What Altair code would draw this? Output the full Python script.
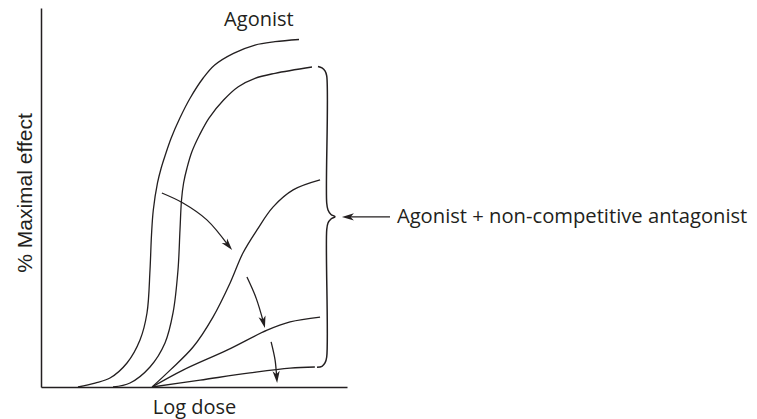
import altair as alt
import pandas as pd

# ---- values (x: log dose, 0-10 units; y: % maximal effect) ----
agonist_dose = [1.209, 1.765, 2.255, 2.810, 3.235, 3.464, 3.562, 3.611, 3.670, 3.807, 3.928, 4.062,
                4.255, 4.539, 4.876, 5.301, 5.676, 6.291, 6.993, 7.647, 8.431]
agonist_effect = [0, 1.16, 2.61, 6.97, 13.64, 21.48, 33.96, 44.12, 51.37, 59.21, 63.56, 67.33,
                  72.27, 78.07, 83.88, 89.68, 93.46, 96.85, 99.26, 100.22, 100.86]

anta1_dose = [2.353, 2.908, 3.562, 4.052, 4.314, 4.477, 4.542, 4.592, 4.660, 4.771, 4.928, 5.180,
              5.490, 5.967, 6.448, 6.993, 7.647, 8.856]
anta1_effect = [0, 1.16, 5.80, 12.77, 21.48, 33.96, 45.57, 54.28, 59.21, 63.56, 68.21, 73.14,
                78.07, 83.30, 87.16, 89.60, 91.05, 92.88]

anta2_dose = [3.63, 4.22, 4.97, 5.62, 6.18, 6.60, 7.06, 7.58, 8.24, 9.12]
anta2_effect = [0, 4.9, 11.6, 20.3, 30.2, 38.9, 45.6, 52.2, 57.2, 60.1]

anta3_dose = [3.63, 4.64, 6.08, 7.39, 8.14, 9.12]
anta3_effect = [0, 4.9, 10.7, 16.5, 18.9, 20.3]

anta4_dose = [3.63, 5.20, 6.83, 8.14, 8.95]
anta4_effect = [0, 2.0, 4.1, 5.5, 5.8]

# curved arrows showing the downward shift (shaft points, last point = arrow head)
arrow1_dose = [3.95, 4.64, 5.42, 6.12]
arrow1_effect = [56.3, 53.4, 48.5, 41.1]
arrow2_dose = [6.73, 7.03, 7.27]
arrow2_effect = [31.9, 25.8, 18.8]
arrow3_dose = [7.52, 7.65, 7.70]
arrow3_effect = [13.1, 7.8, 2.9]
label_arrow_dose = [10.03, 11.405]
label_arrow_effect = [49.35, 49.35]

# brace grouping the antagonist curves
brace_dose = [9.052, 9.183, 9.281, 9.337, 9.337, 9.379, 9.477, 9.608, 9.477, 9.379, 9.337, 9.337, 9.281, 9.183, 9.020]
brace_effect = [93.03, 92.60, 91.73, 90.28, 53.41, 51.38, 50.07, 49.43, 48.77, 47.61, 45.58, 8.71, 6.97, 6.01, 5.72]

label_text = ["Agonist", "Agonist + non-competitive antagonist"]
label_dose = [7.12, 11.63]
label_effect = [104.8, 47.6]

INK = "#231f20"


def series(name, xs, ys):
    return pd.DataFrame({"dose": xs, "effect": ys, "series": name, "i": list(range(len(xs)))})


curves = pd.concat([
    series("agonist", agonist_dose, agonist_effect),
    series("anta1", anta1_dose, anta1_effect),
    series("anta2", anta2_dose, anta2_effect),
    series("anta3", anta3_dose, anta3_effect),
    series("anta4", anta4_dose, anta4_effect),
])
arrows = pd.concat([
    series("a1", arrow1_dose, arrow1_effect),
    series("a2", arrow2_dose, arrow2_effect),
    series("a3", arrow3_dose, arrow3_effect),
])
label_arrow = series("la", label_arrow_dose, label_arrow_effect)
brace = series("brace", brace_dose, brace_effect)
labels = pd.DataFrame({"dose": label_dose, "effect": label_effect, "text": label_text})

x_enc = alt.X(
    "dose:Q",
    scale=alt.Scale(domain=[0, 10], nice=False, zero=False),
    axis=alt.Axis(
        title="Log dose", domain=True, domainColor=INK, domainWidth=1.5,
        ticks=False, labels=False, grid=False,
        titleFont="Open Sans", titleFontSize=20, titleFontWeight="normal",
        titleColor=INK, titleBaseline="alphabetic", titleY=26,
    ),
)
y_enc = alt.Y(
    "effect:Q",
    scale=alt.Scale(domain=[0, 110], nice=False, zero=False),
    axis=alt.Axis(
        title="% Maximal effect", domain=True, domainColor=INK, domainWidth=1.5,
        ticks=False, labels=False, grid=False,
        titleFont="Liberation Sans", titleFontSize=21, titleFontWeight="normal",
        titleColor=INK, titleAngle=270, titleBaseline="alphabetic",
        titleAlign="center", titleX=-9.5, titleY=184.5,
    ),
)

curve_layer = alt.Chart(curves).mark_line(
    interpolate="catmull-rom", color=INK, strokeWidth=1.3
).encode(x=x_enc, y=y_enc, detail="series:N", order="i:Q")

arrow_layer = alt.Chart(arrows).mark_line(
    interpolate="catmull-rom", color=INK, strokeWidth=1.3
).encode(x=x_enc, y=y_enc, detail="series:N", order="i:Q")

label_arrow_layer = alt.Chart(label_arrow).mark_line(
    color=INK, strokeWidth=1.3
).encode(x=x_enc, y=y_enc, order="i:Q")

brace_layer = alt.Chart(brace).mark_line(
    interpolate="catmull-rom", color=INK, strokeWidth=1.5
).encode(x=x_enc, y=y_enc, order="i:Q")

HEAD = "M0,1 L-0.6,-1 L0,-0.45 L0.6,-1 Z"


def head(df_part, angle):
    return alt.Chart(df_part).mark_point(
        shape=HEAD, filled=True, color=INK, opacity=1, size=144, angle=angle, strokeWidth=0
    ).encode(x=x_enc, y=y_enc)


heads = [
    head(pd.DataFrame({"dose": [arrow1_dose[-1]], "effect": [arrow1_effect[-1]]}), 320),
    head(pd.DataFrame({"dose": [arrow2_dose[-1]], "effect": [arrow2_effect[-1]]}), 346),
    head(pd.DataFrame({"dose": [arrow3_dose[-1]], "effect": [arrow3_effect[-1]]}), 355),
    head(pd.DataFrame({"dose": [label_arrow_dose[0]], "effect": [label_arrow_effect[0]]}), 90),
]

agonist_label = alt.Chart(labels.iloc[[0]]).mark_text(
    font="Open Sans", fontSize=20, color=INK, align="center", baseline="alphabetic"
).encode(x=x_enc, y=y_enc, text="text:N")

anta_label = alt.Chart(labels.iloc[[1]]).mark_text(
    font="Open Sans", fontSize=20.2, color=INK, align="left", baseline="alphabetic"
).encode(x=x_enc, y=y_enc, text="text:N")

chart = alt.layer(
    curve_layer, arrow_layer, label_arrow_layer, brace_layer, *heads, agonist_label, anta_label
).properties(
    width=306,
    height=379,
    autosize=alt.AutoSizeParams(type="none"),
    padding={"left": 33, "top": 0, "right": 402, "bottom": 32},
    background="white",
).configure_view(stroke=None)

chart.save("out.html", embed_options={"renderer": "svg", "actions": False})
